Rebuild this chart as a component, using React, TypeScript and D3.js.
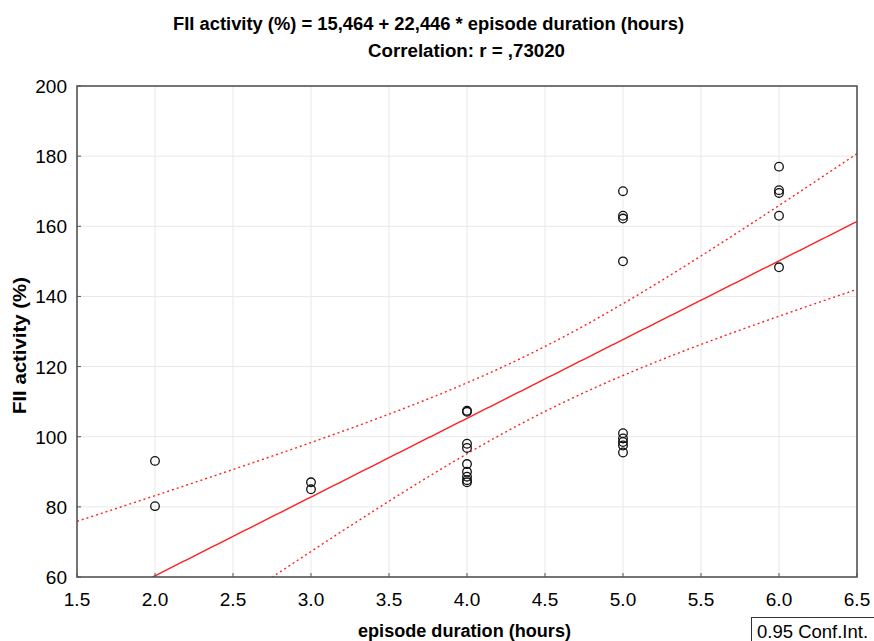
import React from "react";
import * as d3 from "d3";

// Episode duration (hours) and FII activity (%) for each observation
const durationHours = [
  2, 2,
  3, 3,
  4, 4, 4, 4, 4, 4, 4, 4, 4,
  5, 5, 5, 5, 5, 5, 5, 5, 5,
  6, 6, 6, 6, 6,
];
const fiiActivity = [
  93.1, 80.2,
  87.0, 85.0,
  107.4, 107.1, 98.0, 96.8, 92.2, 90.0, 88.6, 87.6, 87.0,
  170.0, 163.0, 162.2, 150.0, 101.0, 99.5, 98.5, 97.5, 95.5,
  177.0, 170.3, 169.5, 163.0, 148.3,
];

// Fitted regression: FII activity = 15.464 + 22.446 * duration
const intercept = 15.464;
const slope = 22.446;
const correlationText = ",73020";

const xTicks = [1.5, 2.0, 2.5, 3.0, 3.5, 4.0, 4.5, 5.0, 5.5, 6.0, 6.5];
const yTicks = [60, 80, 100, 120, 140, 160, 180, 200];

const W = 874;
const H = 641;
const plot = { left: 77, right: 857, top: 86, bottom: 577 };
const FONT = "'Liberation Sans', Arial, sans-serif";

export default function App() {
  const x = d3.scaleLinear().domain([1.5, 6.5]).range([plot.left, plot.right]);
  const y = d3.scaleLinear().domain([60, 200]).range([plot.bottom, plot.top]);

  // Confidence band for the mean response (95%)
  const n = durationHours.length;
  const xMean = d3.mean(durationHours) as number;
  const sxx = d3.sum(durationHours, (v) => (v - xMean) ** 2);
  const sse = d3.sum(durationHours, (v, i) => (fiiActivity[i] - (intercept + slope * v)) ** 2);
  const s = Math.sqrt(sse / (n - 2));
  const tCrit = 2.06;
  const fit = (v: number) => intercept + slope * v;
  const half = (v: number) => tCrit * s * Math.sqrt(1 / n + (v - xMean) ** 2 / sxx);

  const grid = d3.range(0, 201).map((i) => 1.5 + (i * 5) / 200);
  const curve = (f: (v: number) => number) =>
    d3
      .line<number>()
      .x((v) => x(v))
      .y((v) => y(f(v)))(grid) as string;

  const fitPath = curve(fit);
  const upperPath = curve((v) => fit(v) + half(v));
  const lowerPath = curve((v) => fit(v) - half(v));

  return (
    <svg
      width={W}
      height={H}
      style={{ position: "absolute", left: 0, top: 0, background: "#fff" }}
      fontFamily={FONT}
    >
      <defs>
        <clipPath id="plotClip">
          <rect x={plot.left} y={plot.top} width={plot.right - plot.left} height={plot.bottom - plot.top} />
        </clipPath>
      </defs>

      {/* Title */}
      <text x={173} y={30} fontSize={18} fontWeight="bold" fill="#000" textLength={511} lengthAdjust="spacingAndGlyphs">
        FII activity (%) = 15,464 + 22,446 * episode duration (hours)
      </text>
      <text x={368} y={57} fontSize={18} fontWeight="bold" fill="#000" textLength={197} lengthAdjust="spacingAndGlyphs">
        {`Correlation: r = ${correlationText}`}
      </text>

      {/* Grid */}
      {xTicks.map((t) => (
        <line key={`gx${t}`} x1={x(t)} x2={x(t)} y1={plot.top} y2={plot.bottom} stroke="#e8e8e8" strokeWidth={1} />
      ))}
      {yTicks.map((t) => (
        <line key={`gy${t}`} x1={plot.left} x2={plot.right} y1={y(t)} y2={y(t)} stroke="#e8e8e8" strokeWidth={1} />
      ))}

      {/* Regression line and confidence limits */}
      <g clipPath="url(#plotClip)">
        <path d={fitPath} fill="none" stroke="#ff2020" strokeWidth={1.4} />
        <path d={upperPath} fill="none" stroke="#ff2020" strokeWidth={1.4} strokeDasharray="2 3" />
        <path d={lowerPath} fill="none" stroke="#ff2020" strokeWidth={1.4} strokeDasharray="2 3" />
      </g>

      {/* Observations */}
      {durationHours.map((d, i) => (
        <circle key={i} cx={x(d)} cy={y(fiiActivity[i])} r={4.3} fill="none" stroke="#111" strokeWidth={1.3} />
      ))}

      {/* Frame */}
      <rect
        x={plot.left}
        y={plot.top}
        width={plot.right - plot.left}
        height={plot.bottom - plot.top}
        fill="none"
        stroke="#555"
        strokeWidth={1.6}
      />

      {/* Ticks */}
      {xTicks.map((t) => (
        <g key={`tx${t}`}>
          <line x1={x(t)} x2={x(t)} y1={plot.bottom} y2={plot.bottom - 4} stroke="#555" />
          <text x={x(t)} y={606} textAnchor="middle" fontSize={19} fill="#000">
            {t.toFixed(1)}
          </text>
        </g>
      ))}
      {yTicks.map((t) => (
        <g key={`ty${t}`}>
          <line x1={plot.left} x2={plot.left + 4} y1={y(t)} y2={y(t)} stroke="#555" />
          <text x={67} y={y(t) + 7} textAnchor="end" fontSize={19} fill="#000">
            {t}
          </text>
        </g>
      ))}

      {/* Axis titles */}
      <text x={358} y={637} fontSize={17.5} fontWeight="bold" fill="#000" textLength={213} lengthAdjust="spacingAndGlyphs">
        episode duration (hours)
      </text>
      <text
        transform={`translate(26,${414}) rotate(-90)`}
        fontSize={17.5}
        fontWeight="bold"
        fill="#000"
        textLength={137}
        lengthAdjust="spacingAndGlyphs"
      >
        FII activity (%)
      </text>

      {/* Legend */}
      <rect x={751.5} y={617.5} width={140} height={40} fill="#fff" stroke="#333" strokeWidth={1} />
      <text x={757} y={638} fontSize={18.5} fill="#000">
        0.95 Conf.Int.
      </text>
    </svg>
  );
}
